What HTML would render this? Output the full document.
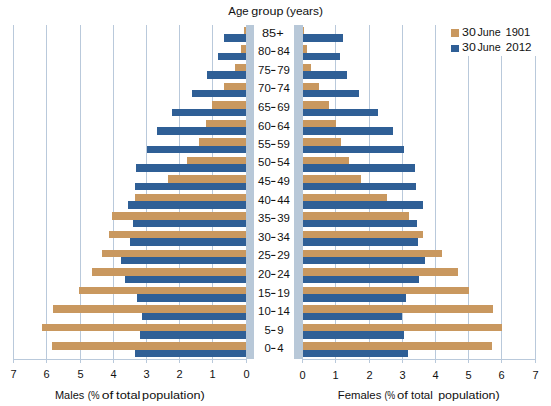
<!DOCTYPE html>
<html><head><meta charset="utf-8"><style>
html,body{margin:0;padding:0;background:#fff;width:551px;height:406px;overflow:hidden}
svg{display:block}
text{font-family:"Liberation Sans",sans-serif;fill:#111}
</style></head><body>
<svg width="551" height="406" viewBox="0 0 551 406">
<rect x="13" y="25" width="1" height="338" fill="#b9c9db"/>
<rect x="46" y="25" width="1" height="338" fill="#b9c9db"/>
<rect x="80" y="25" width="1" height="338" fill="#b9c9db"/>
<rect x="113" y="25" width="1" height="338" fill="#b9c9db"/>
<rect x="146" y="25" width="1" height="338" fill="#b9c9db"/>
<rect x="179" y="25" width="1" height="338" fill="#b9c9db"/>
<rect x="212" y="25" width="1" height="338" fill="#b9c9db"/>
<rect x="335" y="25" width="1" height="338" fill="#b9c9db"/>
<rect x="369" y="25" width="1" height="338" fill="#b9c9db"/>
<rect x="402" y="25" width="1" height="338" fill="#b9c9db"/>
<rect x="435" y="25" width="1" height="338" fill="#b9c9db"/>
<rect x="468" y="25" width="1" height="338" fill="#b9c9db"/>
<rect x="501" y="25" width="1" height="338" fill="#b9c9db"/>
<rect x="535" y="25" width="1" height="338" fill="#b9c9db"/>
<rect x="13" y="359" width="234" height="1" fill="#b9c9db"/>
<rect x="302" y="359" width="234" height="1" fill="#b9c9db"/>
<rect x="246" y="359" width="1" height="4" fill="#b9c9db"/>
<rect x="302" y="359" width="1" height="4" fill="#b9c9db"/>
<rect x="246" y="25" width="8" height="334" fill="#b8c8d8"/>
<rect x="294" y="25" width="9" height="334" fill="#b8c8d8"/>
<rect x="244" y="27" width="2" height="7" fill="#c9985f"/>
<rect x="224" y="34" width="22" height="8" fill="#2f5f96"/>
<rect x="303" y="27" width="1" height="7" fill="#c9985f"/>
<rect x="303" y="34" width="40" height="8" fill="#2f5f96"/>
<rect x="241" y="45" width="5" height="8" fill="#c9985f"/>
<rect x="218" y="53" width="28" height="7" fill="#2f5f96"/>
<rect x="303" y="45" width="4" height="8" fill="#c9985f"/>
<rect x="303" y="53" width="37" height="7" fill="#2f5f96"/>
<rect x="235" y="64" width="11" height="7" fill="#c9985f"/>
<rect x="207" y="71" width="39" height="8" fill="#2f5f96"/>
<rect x="303" y="64" width="8" height="7" fill="#c9985f"/>
<rect x="303" y="71" width="44" height="8" fill="#2f5f96"/>
<rect x="224" y="83" width="22" height="7" fill="#c9985f"/>
<rect x="192" y="90" width="54" height="7" fill="#2f5f96"/>
<rect x="303" y="83" width="16" height="7" fill="#c9985f"/>
<rect x="303" y="90" width="56" height="7" fill="#2f5f96"/>
<rect x="212" y="101" width="34" height="8" fill="#c9985f"/>
<rect x="172" y="109" width="74" height="7" fill="#2f5f96"/>
<rect x="303" y="101" width="26" height="8" fill="#c9985f"/>
<rect x="303" y="109" width="75" height="7" fill="#2f5f96"/>
<rect x="206" y="120" width="40" height="7" fill="#c9985f"/>
<rect x="157" y="127" width="89" height="8" fill="#2f5f96"/>
<rect x="303" y="120" width="33" height="7" fill="#c9985f"/>
<rect x="303" y="127" width="90" height="8" fill="#2f5f96"/>
<rect x="199" y="138" width="47" height="8" fill="#c9985f"/>
<rect x="147" y="146" width="99" height="7" fill="#2f5f96"/>
<rect x="303" y="138" width="38" height="8" fill="#c9985f"/>
<rect x="303" y="146" width="101" height="7" fill="#2f5f96"/>
<rect x="187" y="157" width="59" height="7" fill="#c9985f"/>
<rect x="136" y="164" width="110" height="8" fill="#2f5f96"/>
<rect x="303" y="157" width="46" height="7" fill="#c9985f"/>
<rect x="303" y="164" width="112" height="8" fill="#2f5f96"/>
<rect x="168" y="175" width="78" height="8" fill="#c9985f"/>
<rect x="135" y="183" width="111" height="7" fill="#2f5f96"/>
<rect x="303" y="175" width="58" height="8" fill="#c9985f"/>
<rect x="303" y="183" width="113" height="7" fill="#2f5f96"/>
<rect x="135" y="194" width="111" height="7" fill="#c9985f"/>
<rect x="128" y="201" width="118" height="8" fill="#2f5f96"/>
<rect x="303" y="194" width="84" height="7" fill="#c9985f"/>
<rect x="303" y="201" width="120" height="8" fill="#2f5f96"/>
<rect x="112" y="212" width="134" height="8" fill="#c9985f"/>
<rect x="133" y="220" width="113" height="7" fill="#2f5f96"/>
<rect x="303" y="212" width="106" height="8" fill="#c9985f"/>
<rect x="303" y="220" width="114" height="7" fill="#2f5f96"/>
<rect x="109" y="231" width="137" height="7" fill="#c9985f"/>
<rect x="130" y="238" width="116" height="8" fill="#2f5f96"/>
<rect x="303" y="231" width="120" height="7" fill="#c9985f"/>
<rect x="303" y="238" width="115" height="8" fill="#2f5f96"/>
<rect x="102" y="250" width="144" height="7" fill="#c9985f"/>
<rect x="121" y="257" width="125" height="7" fill="#2f5f96"/>
<rect x="303" y="250" width="139" height="7" fill="#c9985f"/>
<rect x="303" y="257" width="122" height="7" fill="#2f5f96"/>
<rect x="92" y="268" width="154" height="8" fill="#c9985f"/>
<rect x="125" y="276" width="121" height="7" fill="#2f5f96"/>
<rect x="303" y="268" width="155" height="8" fill="#c9985f"/>
<rect x="303" y="276" width="116" height="7" fill="#2f5f96"/>
<rect x="79" y="287" width="167" height="7" fill="#c9985f"/>
<rect x="137" y="294" width="109" height="8" fill="#2f5f96"/>
<rect x="303" y="287" width="166" height="7" fill="#c9985f"/>
<rect x="303" y="294" width="103" height="8" fill="#2f5f96"/>
<rect x="53" y="305" width="193" height="8" fill="#c9985f"/>
<rect x="142" y="313" width="104" height="7" fill="#2f5f96"/>
<rect x="303" y="305" width="190" height="8" fill="#c9985f"/>
<rect x="303" y="313" width="99" height="7" fill="#2f5f96"/>
<rect x="42" y="324" width="204" height="7" fill="#c9985f"/>
<rect x="140" y="331" width="106" height="8" fill="#2f5f96"/>
<rect x="303" y="324" width="199" height="7" fill="#c9985f"/>
<rect x="303" y="331" width="101" height="8" fill="#2f5f96"/>
<rect x="52" y="342" width="194" height="8" fill="#c9985f"/>
<rect x="135" y="350" width="111" height="7" fill="#2f5f96"/>
<rect x="303" y="342" width="189" height="8" fill="#c9985f"/>
<rect x="303" y="350" width="105" height="7" fill="#2f5f96"/>
<rect x="446" y="24" width="90" height="32" fill="#fff"/>
<rect x="451" y="29" width="8" height="8" fill="#c9985f"/>
<rect x="451" y="45" width="8" height="7" fill="#2f5f96"/>
<text x="228.30" y="15" font-size="11" textLength="20.37" lengthAdjust="spacingAndGlyphs">Age</text>
<text x="251.33" y="15" font-size="11" textLength="32.06" lengthAdjust="spacingAndGlyphs">group</text>
<text x="286.03" y="15" font-size="11" textLength="36.97" lengthAdjust="spacingAndGlyphs">(years)</text>
<text x="262.02" y="37" font-size="11" textLength="21.61" lengthAdjust="spacingAndGlyphs">85+</text>
<text x="270.8" y="55" font-size="11" text-anchor="end" textLength="12.70" lengthAdjust="spacingAndGlyphs">80</text>
<rect x="271.2" y="50.9" width="4.2" height="1.1" fill="#111"/>
<text x="277.2" y="55" font-size="11" textLength="12.70" lengthAdjust="spacingAndGlyphs">84</text>
<text x="270.8" y="74" font-size="11" text-anchor="end" textLength="12.70" lengthAdjust="spacingAndGlyphs">75</text>
<rect x="271.2" y="69.9" width="4.2" height="1.1" fill="#111"/>
<text x="277.2" y="74" font-size="11" textLength="12.70" lengthAdjust="spacingAndGlyphs">79</text>
<text x="270.8" y="92" font-size="11" text-anchor="end" textLength="12.70" lengthAdjust="spacingAndGlyphs">70</text>
<rect x="271.2" y="87.9" width="4.2" height="1.1" fill="#111"/>
<text x="277.2" y="92" font-size="11" textLength="12.70" lengthAdjust="spacingAndGlyphs">74</text>
<text x="270.8" y="111" font-size="11" text-anchor="end" textLength="12.70" lengthAdjust="spacingAndGlyphs">65</text>
<rect x="271.2" y="106.9" width="4.2" height="1.1" fill="#111"/>
<text x="277.2" y="111" font-size="11" textLength="12.70" lengthAdjust="spacingAndGlyphs">69</text>
<text x="270.8" y="130" font-size="11" text-anchor="end" textLength="12.70" lengthAdjust="spacingAndGlyphs">60</text>
<rect x="271.2" y="125.9" width="4.2" height="1.1" fill="#111"/>
<text x="277.2" y="130" font-size="11" textLength="12.70" lengthAdjust="spacingAndGlyphs">64</text>
<text x="270.8" y="148" font-size="11" text-anchor="end" textLength="12.70" lengthAdjust="spacingAndGlyphs">55</text>
<rect x="271.2" y="143.9" width="4.2" height="1.1" fill="#111"/>
<text x="277.2" y="148" font-size="11" textLength="12.70" lengthAdjust="spacingAndGlyphs">59</text>
<text x="270.8" y="166" font-size="11" text-anchor="end" textLength="12.70" lengthAdjust="spacingAndGlyphs">50</text>
<rect x="271.2" y="161.9" width="4.2" height="1.1" fill="#111"/>
<text x="277.2" y="166" font-size="11" textLength="12.70" lengthAdjust="spacingAndGlyphs">54</text>
<text x="270.8" y="185" font-size="11" text-anchor="end" textLength="12.70" lengthAdjust="spacingAndGlyphs">45</text>
<rect x="271.2" y="180.9" width="4.2" height="1.1" fill="#111"/>
<text x="277.2" y="185" font-size="11" textLength="12.70" lengthAdjust="spacingAndGlyphs">49</text>
<text x="270.8" y="204" font-size="11" text-anchor="end" textLength="12.70" lengthAdjust="spacingAndGlyphs">40</text>
<rect x="271.2" y="199.9" width="4.2" height="1.1" fill="#111"/>
<text x="277.2" y="204" font-size="11" textLength="12.70" lengthAdjust="spacingAndGlyphs">44</text>
<text x="270.8" y="222" font-size="11" text-anchor="end" textLength="12.70" lengthAdjust="spacingAndGlyphs">35</text>
<rect x="271.2" y="217.9" width="4.2" height="1.1" fill="#111"/>
<text x="277.2" y="222" font-size="11" textLength="12.70" lengthAdjust="spacingAndGlyphs">39</text>
<text x="270.8" y="241" font-size="11" text-anchor="end" textLength="12.70" lengthAdjust="spacingAndGlyphs">30</text>
<rect x="271.2" y="236.9" width="4.2" height="1.1" fill="#111"/>
<text x="277.2" y="241" font-size="11" textLength="12.70" lengthAdjust="spacingAndGlyphs">34</text>
<text x="270.8" y="259" font-size="11" text-anchor="end" textLength="12.70" lengthAdjust="spacingAndGlyphs">25</text>
<rect x="271.2" y="254.9" width="4.2" height="1.1" fill="#111"/>
<text x="277.2" y="259" font-size="11" textLength="12.70" lengthAdjust="spacingAndGlyphs">29</text>
<text x="270.8" y="278" font-size="11" text-anchor="end" textLength="12.70" lengthAdjust="spacingAndGlyphs">20</text>
<rect x="271.2" y="273.9" width="4.2" height="1.1" fill="#111"/>
<text x="277.2" y="278" font-size="11" textLength="12.70" lengthAdjust="spacingAndGlyphs">24</text>
<text x="270.8" y="297" font-size="11" text-anchor="end" textLength="12.70" lengthAdjust="spacingAndGlyphs">15</text>
<rect x="271.2" y="292.9" width="4.2" height="1.1" fill="#111"/>
<text x="277.2" y="297" font-size="11" textLength="12.70" lengthAdjust="spacingAndGlyphs">19</text>
<text x="270.8" y="315" font-size="11" text-anchor="end" textLength="12.70" lengthAdjust="spacingAndGlyphs">10</text>
<rect x="271.2" y="310.9" width="4.2" height="1.1" fill="#111"/>
<text x="277.2" y="315" font-size="11" textLength="12.70" lengthAdjust="spacingAndGlyphs">14</text>
<text x="270.8" y="334" font-size="11" text-anchor="end" textLength="6.35" lengthAdjust="spacingAndGlyphs">5</text>
<rect x="271.2" y="329.9" width="4.2" height="1.1" fill="#111"/>
<text x="277.2" y="334" font-size="11" textLength="6.35" lengthAdjust="spacingAndGlyphs">9</text>
<text x="270.8" y="352" font-size="11" text-anchor="end" textLength="6.35" lengthAdjust="spacingAndGlyphs">0</text>
<rect x="271.2" y="347.9" width="4.2" height="1.1" fill="#111"/>
<text x="277.2" y="352" font-size="11" textLength="6.35" lengthAdjust="spacingAndGlyphs">4</text>
<text x="462.14" y="36" font-size="11" textLength="13.72" lengthAdjust="spacingAndGlyphs">30</text>
<text x="477.56" y="36" font-size="11" textLength="23.11" lengthAdjust="spacingAndGlyphs">June</text>
<text x="505.41" y="36" font-size="11" textLength="24.91" lengthAdjust="spacingAndGlyphs">1901</text>
<text x="462.14" y="51" font-size="11" textLength="13.72" lengthAdjust="spacingAndGlyphs">30</text>
<text x="477.56" y="51" font-size="11" textLength="23.11" lengthAdjust="spacingAndGlyphs">June</text>
<text x="505.77" y="51" font-size="11" textLength="25.77" lengthAdjust="spacingAndGlyphs">2012</text>
<text x="13.50" y="378" font-size="11" text-anchor="middle">7</text>
<text x="302.50" y="379" font-size="11" text-anchor="middle">0</text>
<text x="46.50" y="378" font-size="11" text-anchor="middle">6</text>
<text x="335.50" y="379" font-size="11" text-anchor="middle">1</text>
<text x="80.50" y="378" font-size="11" text-anchor="middle">5</text>
<text x="369.50" y="379" font-size="11" text-anchor="middle">2</text>
<text x="113.50" y="378" font-size="11" text-anchor="middle">4</text>
<text x="402.50" y="379" font-size="11" text-anchor="middle">3</text>
<text x="146.50" y="378" font-size="11" text-anchor="middle">3</text>
<text x="435.50" y="379" font-size="11" text-anchor="middle">4</text>
<text x="179.50" y="378" font-size="11" text-anchor="middle">2</text>
<text x="468.50" y="379" font-size="11" text-anchor="middle">5</text>
<text x="212.50" y="378" font-size="11" text-anchor="middle">1</text>
<text x="501.50" y="379" font-size="11" text-anchor="middle">6</text>
<text x="246.50" y="378" font-size="11" text-anchor="middle">0</text>
<text x="535.50" y="379" font-size="11" text-anchor="middle">7</text>
<text x="54.93" y="399" font-size="11" textLength="29.32" lengthAdjust="spacingAndGlyphs">Males</text>
<text x="87.75" y="399" font-size="11" textLength="11.85" lengthAdjust="spacingAndGlyphs">(%</text>
<text x="101.87" y="399" font-size="11" textLength="11.65" lengthAdjust="spacingAndGlyphs">of</text>
<text x="116.05" y="399" font-size="11" textLength="24.38" lengthAdjust="spacingAndGlyphs">total</text>
<text x="142.14" y="399" font-size="11" textLength="62.55" lengthAdjust="spacingAndGlyphs">population)</text>
<text x="337.80" y="399" font-size="11" textLength="43.56" lengthAdjust="spacingAndGlyphs">Females</text>
<text x="384.39" y="399" font-size="11" textLength="10.87" lengthAdjust="spacingAndGlyphs">(%</text>
<text x="397.01" y="399" font-size="11" textLength="10.92" lengthAdjust="spacingAndGlyphs">of</text>
<text x="411.07" y="399" font-size="11" textLength="21.76" lengthAdjust="spacingAndGlyphs">total</text>
<text x="438.15" y="399" font-size="11" textLength="61.52" lengthAdjust="spacingAndGlyphs">population)</text>
</svg>
</body></html>
